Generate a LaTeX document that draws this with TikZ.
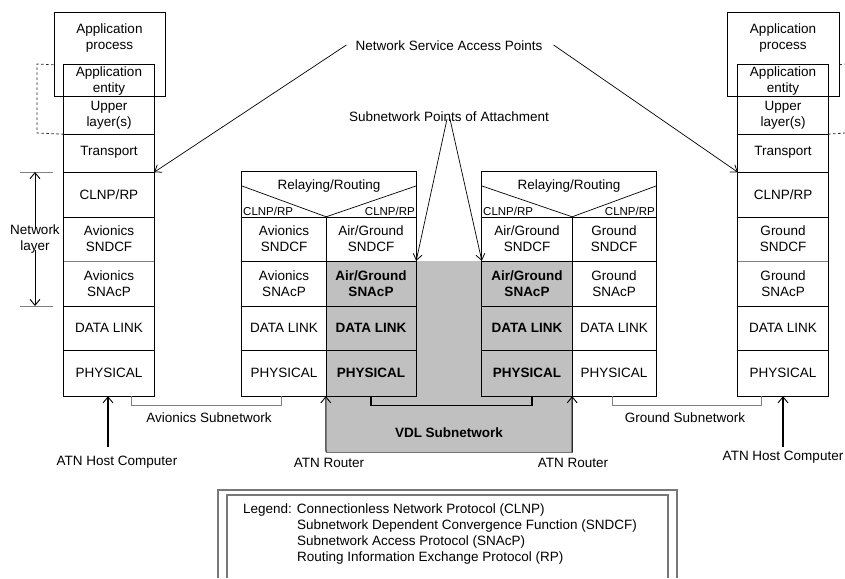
\documentclass[tikz,border=0pt]{standalone}
\usepackage{fontspec}
\setmainfont{Liberation Sans}
\usetikzlibrary{arrows.meta}
\definecolor{vdlgray}{RGB}{192,192,192}
\definecolor{leggray}{RGB}{120,120,120}
\begin{document}
\begin{tikzpicture}[x=1pt,y=-1pt,
  f/.style={font=\fontsize{13.5}{16}\selectfont},
  sm/.style={font=\fontsize{11.5}{13}\selectfont, inner sep=0pt},
  cell/.style={f, inner sep=0pt, align=center, draw=none},
  bcell/.style={cell, font=\fontsize{13.5}{16}\selectfont\bfseries},
  bx/.style={line width=1.2pt, black},
  apbox/.style={draw=black, line width=0.8pt, inner sep=0pt, minimum height=84},
  sep/.style={line width=0.6pt, gray},
  thinln/.style={line width=0.7pt, black},
  tip/.style={-{Straight Barb[length=6pt,width=10pt,line width=0.9pt]}},
  stip/.style={-{Straight Barb[length=6pt,width=9pt,line width=0.8pt]}},
  sub/.style={line width=0.8pt, gray},
  dsh/.style={line width=0.8pt, dash pattern=on 2.5pt off 2.5pt, black!85},
  lbl/.style={f, inner sep=0pt, align=center}
]
\useasboundingbox (0,0) rectangle (845,578);

% VDL gray area
\fill[vdlgray] (326,261) rectangle (572,452);
\draw[line width=0.7pt, black!55] (326,452) -- (572,452) -- (572,261);

% ---------- Left end system ----------
\node[apbox, minimum width=111] (LAP) at (109.5,54) {};
\node[lbl] (LAPt) at (109.5,38) {Application\\process};
\node[cell, minimum width=90, minimum height=32] (LAE) at (109,81) {Application\\entity};
\node[cell, minimum width=90, minimum height=37] (LUL) at (109,115.5) {Upper\\layer(s)};
\node[cell, minimum width=90, minimum height=39] (LTR) at (109,152.5) {Transport};
\node[cell, minimum width=90, minimum height=45] (LCL) at (109,194.5) {CLNP/RP};
\node[cell, minimum width=90, minimum height=44] (LSN) at (109,239) {Avionics\\SNDCF};
\node[cell, minimum width=90, minimum height=45] (LSA) at (109,283.5) {Avionics\\SNAcP};
\node[cell, minimum width=90, minimum height=44] (LDL) at (109,328) {DATA LINK};
\node[cell, minimum width=90, minimum height=46] (LPH) at (109,373) {PHYSICAL};
\draw[bx] (LAE.north west) rectangle (LPH.south east);
\foreach \n in {LUL,LTR,LCL,LSA,LDL} \draw[bx] (\n.south west) -- (\n.south east);
\draw[sep] (LSN.south west) -- (LSN.south east);
\draw[dsh] (LAP.west |- LAE.north) -- (37,64) -- (37,133) -- (LUL.south west);

% network layer
\node[lbl] (NL) at (35,239) {Network\\layer};
\coordinate (NLt) at (35,172);
\coordinate (NLb) at (35,306);
\draw[sep] (20,172) -- (53,172);
\draw[sep] (20,306) -- (53,306);
\draw[line width=1pt, tip] ([yshift=-4pt]NL.north) -- (NLt);
\draw[line width=1pt, tip] ([yshift=3pt]NL.south) -- (NLb);

% ---------- Left router ----------
\node[cell, minimum width=174, minimum height=45] (LRT) at (329,194.5) {};
\node[lbl] (LRrr) at (329,186) {Relaying/Routing};
\node[sm, anchor=west] (LRc1) at (243,211) {CLNP/RP};
\node[sm, anchor=east] (LRc2) at (415,211) {CLNP/RP};
\node[cell, minimum width=84, minimum height=44] (LRa1) at (284,239) {Avionics\\SNDCF};
\node[cell, minimum width=84, minimum height=45] (LRa2) at (284,283.5) {Avionics\\SNAcP};
\node[cell, minimum width=84, minimum height=44] (LRa3) at (284,328) {DATA LINK};
\node[cell, minimum width=84, minimum height=46] (LRa4) at (284,373) {PHYSICAL};
\node[cell, minimum width=90, minimum height=44] (LRb1) at (371,239) {Air/Ground\\SNDCF};
\node[bcell, minimum width=90, minimum height=45] (LRb2) at (371,283.5) {Air/Ground\\SNAcP};
\node[bcell, minimum width=90, minimum height=44] (LRb3) at (371,328) {DATA LINK};
\node[bcell, minimum width=90, minimum height=46] (LRb4) at (371,373) {PHYSICAL};
\draw[bx] (LRT.north west) rectangle (LRb4.south east);
\draw[bx] (LRT.south west) -- (LRT.south east);
\foreach \n in {LRa1,LRa2,LRa3} \draw[bx] (\n.south west) -- (LRb1.east |- \n.south);
\draw[bx] (LRa1.north east) -- (LRa4.south east);
\draw[thinln] (242,186) -- (LRa1.north east) -- (416,186);

% ---------- Right router ----------
\node[cell, minimum width=174, minimum height=45] (RRT) at (569,194.5) {};
\node[lbl] (RRrr) at (569,186) {Relaying/Routing};
\node[sm, anchor=west] (RRc1) at (483,211) {CLNP/RP};
\node[sm, anchor=east] (RRc2) at (655,211) {CLNP/RP};
\node[cell, minimum width=90, minimum height=44] (RRa1) at (527,239) {Air/Ground\\SNDCF};
\node[bcell, minimum width=90, minimum height=45] (RRa2) at (527,283.5) {Air/Ground\\SNAcP};
\node[bcell, minimum width=90, minimum height=44] (RRa3) at (527,328) {DATA LINK};
\node[bcell, minimum width=90, minimum height=46] (RRa4) at (527,373) {PHYSICAL};
\node[cell, minimum width=84, minimum height=44] (RRb1) at (614,239) {Ground\\SNDCF};
\node[cell, minimum width=84, minimum height=45] (RRb2) at (614,283.5) {Ground\\SNAcP};
\node[cell, minimum width=84, minimum height=44] (RRb3) at (614,328) {DATA LINK};
\node[cell, minimum width=84, minimum height=46] (RRb4) at (614,373) {PHYSICAL};
\draw[bx] (RRT.north west) rectangle (RRb4.south east);
\draw[bx] (RRT.south west) -- (RRT.south east);
\foreach \n in {RRa1,RRa2,RRa3} \draw[bx] (\n.south west) -- (RRb1.east |- \n.south);
\draw[bx] (RRa1.north east) -- (RRa4.south east);
\draw[thinln] (482,186) -- (RRa1.north east) -- (656,186);

% ---------- Right end system ----------
\node[apbox, minimum width=112] (RAP) at (783,54) {};
\node[lbl] (RAPt) at (783,38) {Application\\process};
\node[cell, minimum width=90, minimum height=32] (RAE) at (783,81) {Application\\entity};
\node[cell, minimum width=90, minimum height=37] (RUL) at (783,115.5) {Upper\\layer(s)};
\node[cell, minimum width=90, minimum height=39] (RTR) at (783,152.5) {Transport};
\node[cell, minimum width=90, minimum height=45] (RCL) at (783,194.5) {CLNP/RP};
\node[cell, minimum width=90, minimum height=44] (RSN) at (783,239) {Ground\\SNDCF};
\node[cell, minimum width=90, minimum height=45] (RSA) at (783,283.5) {Ground\\SNAcP};
\node[cell, minimum width=90, minimum height=44] (RDL) at (783,328) {DATA LINK};
\node[cell, minimum width=90, minimum height=46] (RPH) at (783,373) {PHYSICAL};
\draw[bx] (RAE.north west) rectangle (RPH.south east);
\foreach \n in {RUL,RTR,RCL,RSA,RDL} \draw[bx] (\n.south west) -- (\n.south east);
\draw[sep] (RSN.south west) -- (RSN.south east);
\draw[dsh] (RAP.east |- RAE.north) -- (845,64);
\draw[dsh] (RUL.south east) -- (845,133);

% ---------- Top labels and arrows ----------
\node[lbl] (NSAP) at (449,46) {Network Service Access Points};
\draw[thinln, stip] ([xshift=-9pt,yshift=1pt]NSAP.west) -- (LTR.south east);
\draw[thinln, stip] ([xshift=11pt,yshift=1pt]NSAP.east) -- (RTR.south west);
\node[lbl] (SNPA) at (449,117) {Subnetwork Points of Attachment};
\draw[thinln, stip] ([xshift=-2pt,yshift=3pt]SNPA.south) -- (LRb2.north east);
\draw[thinln, stip] ([xshift=1pt,yshift=3pt]SNPA.south) -- (RRa2.north west);

% ---------- Subnetwork connectors ----------
\draw[sub] ([xshift=22pt]LPH.south) -- ++(0,9) -| ([xshift=-3pt]LRa4.south);
\draw[line width=1.2pt, black] (LRb4.south) -- ++(0,9) -| ([xshift=5pt]RRa4.south);
\draw[sub] ([xshift=-2pt]RRb4.south) -- ++(0,9) -| ([xshift=-22pt]RPH.south);
\node[lbl] (AVS) at (209,418) {Avionics Subnetwork};
\node[lbl] (GRS) at (685,418) {Ground Subnetwork};
\node[lbl, font=\fontsize{13.5}{16}\selectfont\bfseries] (VDL) at (449,433) {VDL Subnetwork};

% ---------- Bottom arrows ----------
\node[lbl] (HL) at (117,462) {ATN Host Computer};
\coordinate (HLs) at (108,447);
\draw[line width=1.3pt, tip] (HLs) -- (LPH.south -| HLs);
\node[lbl] (RTL) at (329,463) {ATN Router};
\coordinate (RLs) at (326,452);
\draw[line width=1pt, tip] (RLs) -- (LRb4.south west);
\node[lbl] (RTR2) at (573,463) {ATN Router};
\coordinate (RRs) at (572,452);
\draw[line width=1pt, tip] (RRs) -- (RRa4.south east);
\node[lbl] (HR) at (783,457) {ATN Host Computer};
\coordinate (HRs) at (783,447);
\draw[line width=1.3pt, tip] (HRs) -- (RPH.south);

% ---------- Legend ----------
\draw[line width=1.1pt, leggray] (218,578) -- (218,490) -- (677,490) -- (677,578);
\draw[line width=1.1pt, leggray] (227,578) -- (227,495) -- (668,495) -- (668,578);
\node[f, anchor=base west, inner sep=0pt] (LEG) at (243,513) {%
\begin{tabular}[t]{@{}l@{ }l@{}}
Legend: & Connectionless Network Protocol (CLNP)\\
 & Subnetwork Dependent Convergence Function (SNDCF)\\
 & Subnetwork Access Protocol (SNAcP)\\
 & Routing Information Exchange Protocol (RP)
\end{tabular}};
\end{tikzpicture}
\end{document}
